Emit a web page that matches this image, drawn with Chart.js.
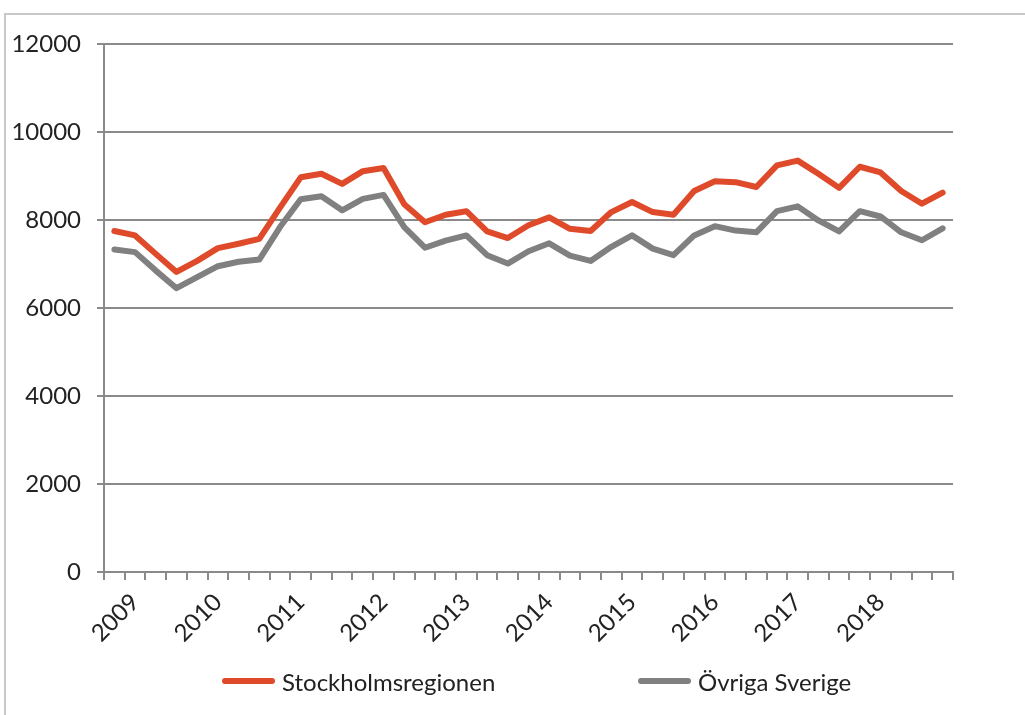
<!DOCTYPE html>
<html>
<head>
<meta charset="utf-8">
<script src="https://cdn.jsdelivr.net/npm/chart.js@4"></script>
<style>
    html, body { margin: 0; padding: 0; background: #fff; }
    #wrap { position: relative; width: 1025px; height: 715px; overflow: hidden; }
    #frame { position: absolute; left: 4px; top: 13px; width: 1100px; height: 800px;
             border-left: 2px solid #c8c8c8; border-top: 2px solid #c8c8c8; }
    #chart { position: absolute; left: 0; top: 0; }
    #legend { position: absolute; left: 0; top: 666px; width: 1025px; height: 30px;
              font-family: Lato, "Open Sans", sans-serif; font-size: 24px; color: #222; }
    .item { position: absolute; top: 0; display: flex; align-items: center; height: 30px; }
    .swatch { width: 53px; height: 6px; border-radius: 3px; margin-right: 7px; }
</style>
</head>
<body>
<div id="wrap">
    <div id="frame"></div>
    <canvas id="chart" width="1025" height="715"></canvas>
    <div id="legend"></div>
</div>
<script>
const quarters = [
    '2008 K4',
    '2009 K1', '2009 K2', '2009 K3', '2009 K4',
    '2010 K1', '2010 K2', '2010 K3', '2010 K4',
    '2011 K1', '2011 K2', '2011 K3', '2011 K4',
    '2012 K1', '2012 K2', '2012 K3', '2012 K4',
    '2013 K1', '2013 K2', '2013 K3', '2013 K4',
    '2014 K1', '2014 K2', '2014 K3', '2014 K4',
    '2015 K1', '2015 K2', '2015 K3', '2015 K4',
    '2016 K1', '2016 K2', '2016 K3', '2016 K4',
    '2017 K1', '2017 K2', '2017 K3', '2017 K4',
    '2018 K1', '2018 K2', '2018 K3', '2018 K4'
]

const stockholm = [
    7750, 7650, 7230, 6820, 7070, 7360, 7460, 7570, 8280, 8970,
    9050, 8820, 9110, 9180, 8360, 7950, 8120, 8200, 7740, 7590,
    7880, 8060, 7800, 7750, 8180, 8410, 8180, 8120, 8660, 8880,
    8860, 8750, 9240, 9350, 9050, 8730, 9210, 9080, 8660, 8370, 8620
]

const ovrigaSverige = [
    7330, 7270, 6850, 6450, 6700, 6950, 7050, 7100, 7840, 8470,
    8540, 8220, 8480, 8570, 7840, 7370, 7530, 7650, 7200, 7010,
    7290, 7470, 7190, 7070, 7390, 7650, 7350, 7200, 7650, 7860,
    7760, 7720, 8200, 8310, 7990, 7740, 8200, 8080, 7720, 7540, 7810
]

const yTicks = [0, 2000, 4000, 6000, 8000, 10000, 12000]

const series = [
    { label: 'Stockholmsregionen', data: stockholm,     color: '#DF4A2B' },
    { label: 'Övriga Sverige',     data: ovrigaSverige, color: '#808080' }
]

const gridColor = '#8a8a8a'
const font      = { family: 'Lato, "Open Sans", sans-serif', size: 24 }

new Chart(document.getElementById('chart'), {
    type: 'line',
    data: {
        labels: quarters,
        datasets: series.map(s => ({
            label: s.label,
            data: s.data,
            borderColor: s.color,
            backgroundColor: s.color,
            borderWidth: 6,
            borderJoinStyle: 'round',
            borderCapStyle: 'round',
            pointRadius: 0,
            tension: 0,
        }))
    },
    options: {
        responsive: false,
        animation: false,
        layout: { padding: { top: 44, right: 72, bottom: 0, left: 0 } },
        plugins: {
            legend: { display: false },
            tooltip: { enabled: false }
        },
        scales: {
            x: {
                offset: true,
                afterFit: scale => { scale.height = 143 },
                grid: {
                    offset: true,
                    drawOnChartArea: false,
                    drawTicks: true,
                    tickLength: 8,
                    color: gridColor,
                    lineWidth: 2,
                },
                border: { color: gridColor, width: 2 },
                ticks: {
                    autoSkip: false,
                    maxRotation: 45,
                    minRotation: 45,
                    padding: 8,
                    color: '#222',
                    font: font,
                    callback: function (value) {
                        const q = quarters[value]
                        return q.endsWith('K1') ? q.slice(0, 4) : ''
                    }
                }
            },
            y: {
                min: 0,
                max: 12000,
                afterFit: scale => { scale.width = 104 },
                afterBuildTicks: scale => { scale.ticks = yTicks.map(v => ({ value: v })) },
                grid: { color: gridColor, lineWidth: 2, tickLength: 7 },
                border: { color: gridColor, width: 2 },
                ticks: {
                    padding: 16,
                    color: '#222',
                    font: font,
                    callback: value => String(value)
                }
            }
        }
    }
})

// legend as html, to get Excel's wide spacing between the two entries
const legendPos = [222, 638]
const legend = document.getElementById('legend')
series.forEach((s, i) => {
    const item = document.createElement('div')
    item.className = 'item'
    item.style.left = legendPos[i] + 'px'
    item.innerHTML = '<span class="swatch" style="background:' + s.color + '"></span><span>' + s.label + '</span>'
    legend.appendChild(item)
})
</script>
</body>
</html>
